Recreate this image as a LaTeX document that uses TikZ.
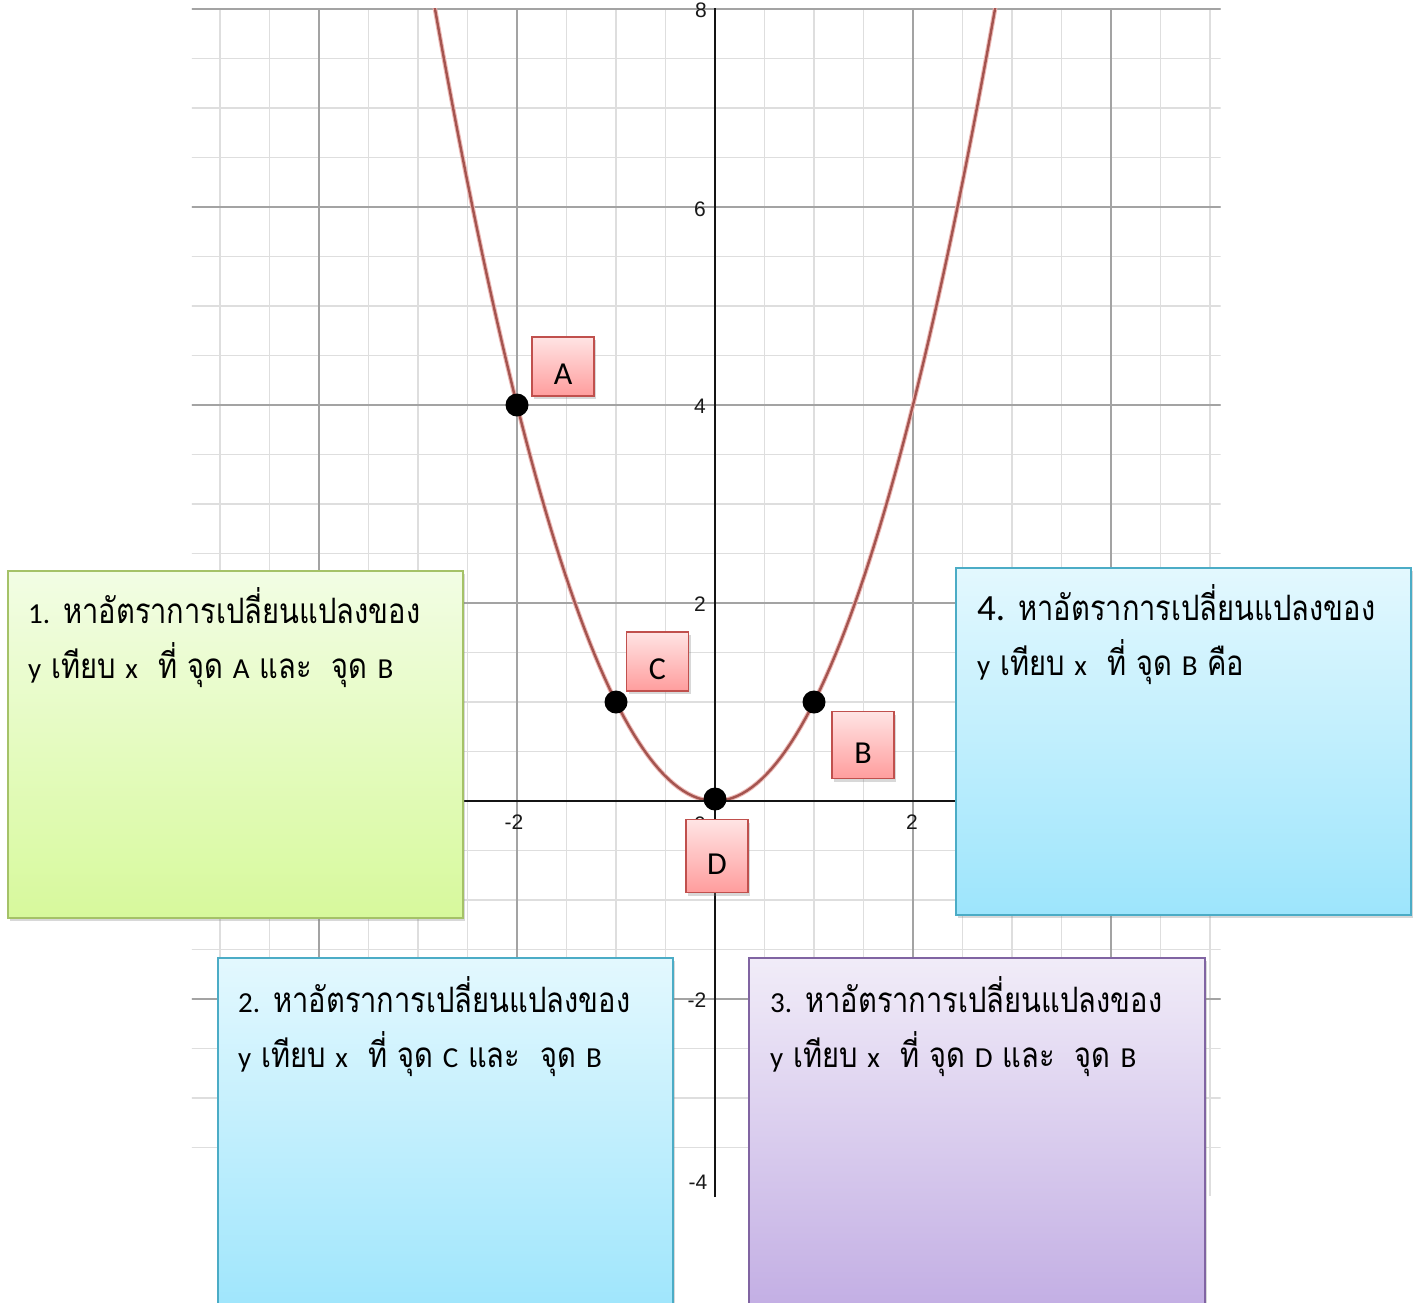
\documentclass[tikz,border=0pt]{standalone}
\usepackage{fontspec}
\setmainfont{Liberation Sans}
\newfontfamily\thaifont[Script=Thai, FakeStretch=0.83]{Loma}
\newfontfamily\latfont{Carlito}
\newfontfamily\lblfont{Carlito}
\newfontfamily\ticksfont{Liberation Sans}
\newcommand{\lt}[1]{{\latfont\fontsize{29}{29}\selectfont #1}}
\newcommand{\ltbig}[1]{{\latfont\fontsize{37}{37}\selectfont #1}}
\usetikzlibrary{shadows}
\definecolor{gridminor}{HTML}{DEDEDE}
\definecolor{gridmajor}{HTML}{A3A3A3}
\definecolor{curvecore}{HTML}{A4544F}
\definecolor{curvehalo}{HTML}{EDB9B6}
\definecolor{lbltop}{HTML}{FFE4E4}
\definecolor{lblbot}{HTML}{FF9D9D}
\definecolor{lblborder}{HTML}{C0504D}
\definecolor{greentop}{HTML}{F2FDE4}
\definecolor{greenbot}{HTML}{D7F99C}
\definecolor{greenborder}{HTML}{A5C268}
\definecolor{bluetop}{HTML}{E3F8FE}
\definecolor{bluebot}{HTML}{9DE5FC}
\definecolor{blueborder}{HTML}{4BACC6}
\definecolor{purpletop}{HTML}{F1ECF8}
\definecolor{purplebot}{HTML}{C1ACE3}
\definecolor{purpleborder}{HTML}{8064A2}
\tikzset{
  minorgrid/.style={draw=gridminor, line width=1.2pt},
  majorgrid/.style={draw=gridmajor, line width=1.3pt},
  axisline/.style={draw=black!92, line width=2pt},
  ticklbl/.style={font=\ticksfont\fontsize{21}{21}\selectfont, text=black!90, inner sep=0pt},
  ptdot/.style={circle, fill=black, minimum size=23pt, inner sep=0pt},
  lblbox/.style={draw=lblborder, line width=1.3pt, top color=lbltop, bottom color=lblbot,
    minimum width=62pt, minimum height=59pt, inner sep=0pt,
    font=\lblfont\fontsize{32}{32}\selectfont, text height=36pt, text depth=0pt,
    drop shadow={opacity=0.3, shadow xshift=2pt, shadow yshift=-3pt}},
  bigbox/.style={line width=1.4pt, minimum width=455pt, inner sep=0pt,
    drop shadow={opacity=0.3, shadow xshift=2pt, shadow yshift=-3pt}},
  boxtext/.style={anchor=base west, inner sep=0pt, font=\thaifont\fontsize{35}{35}\selectfont},
}
\begin{document}
\begin{tikzpicture}[x=1pt,y=-1pt]
\clip (0,0) rectangle (1421,1302);
\fill[white] (0,0) rectangle (1421,1302);
% ---- graph ----
\begin{scope}[x=99pt, y=99pt, shift={(715pt,-801pt)}]
  \begin{scope}
    \clip (-5.283,-3.985) rectangle (5.107,8.01);
    \draw[minorgrid] (-5.5,-4.5) grid[step=0.5] (5.5,8.5);
    \draw[majorgrid] (-6,-4) grid[step=2] (6,8);
    \draw[curvehalo, line width=4.5pt] plot[domain=-2.95:2.95, samples=120] (\x,{\x*\x});
    \draw[curvecore, line width=2.4pt] plot[domain=-2.95:2.95, samples=120] (\x,{\x*\x});
  \end{scope}
  \draw[axisline] (-5.283,0) -- (5.107,0);
  \draw[axisline] (0,-4.0) -- (0,8.01);
  \node[ptdot] (pA) at (-2,4) {};
  \node[ptdot] (pC) at (-1,1) {};
  \node[ptdot] (pB) at (1,1) {};
  \node[ptdot] (pD) at (0,0.02) {};
\end{scope}
% tick labels
\node[ticklbl] (t8) at (701,10) {8};
\node[ticklbl] (t6) at (700,209) {6};
\node[ticklbl] (t4) at (700,406) {4};
\node[ticklbl] (t2) at (700,604) {2};
\node[ticklbl] (tm2y) at (697,1000) {-2};
\node[ticklbl] (tm4y) at (698,1182) {-4};
\node[ticklbl] (tm2x) at (514,822) {-2};
\node[ticklbl] (t2x) at (912,822) {2};
\node[ticklbl] (t0x) at (700,824) {0};
% point labels
\node[lblbox] (lA) at (563,366.5) {A};
\node[lblbox] (lC) at (657.5,661.5) {C};
\node[lblbox, minimum height=67pt] (lB) at (863,745) {B};
\node[lblbox, minimum height=73pt] (lD) at (717,856) {D};
% question boxes
\node[bigbox, draw=greenborder, top color=greentop, bottom color=greenbot, minimum height=347pt] (b1) at (235.5,744.5) {};
\node[boxtext] (b1a) at (28,623) {\lt{1.} หาอัตราการเปลี่ยนแปลงของ};
\node[boxtext] (b1b) at (28,678) {\lt{y} เทียบ \lt{x}\hspace{0.3em} ที่ จุด \lt{A} และ\hspace{0.3em} จุด \lt{B}};

\node[bigbox, draw=blueborder, top color=bluetop, bottom color=bluebot, minimum height=347pt] (b4) at (1183.5,741.5) {};
\node[boxtext] (b4a) at (977,620) {\ltbig{4.} หาอัตราการเปลี่ยนแปลงของ};
\node[boxtext] (b4b) at (977,675) {\lt{y} เทียบ \lt{x}\hspace{0.3em} ที่ จุด \lt{B} คือ};

\node[bigbox, draw=blueborder, top color=bluetop, bottom color=bluebot, minimum height=362pt] (b2) at (445.5,1139) {};
\node[boxtext] (b2a) at (238,1012) {\lt{2.} หาอัตราการเปลี่ยนแปลงของ};
\node[boxtext] (b2b) at (238,1067) {\lt{y} เทียบ \lt{x}\hspace{0.3em} ที่ จุด \lt{C} และ\hspace{0.3em} จุด \lt{B}};

\node[bigbox, draw=purpleborder, top color=purpletop, bottom color=purplebot, minimum width=456pt, minimum height=362pt] (b3) at (977,1139) {};
\node[boxtext] (b3a) at (770,1012) {\lt{3.} หาอัตราการเปลี่ยนแปลงของ};
\node[boxtext] (b3b) at (770,1067) {\lt{y} เทียบ \lt{x}\hspace{0.3em} ที่ จุด \lt{D} และ\hspace{0.3em} จุด \lt{B}};
\end{tikzpicture}
\end{document}
